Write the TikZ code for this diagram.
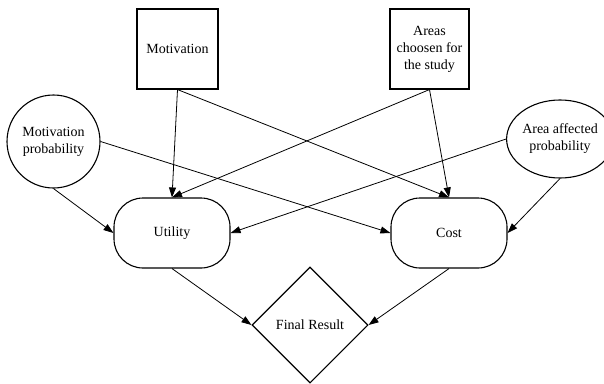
\documentclass[tikz,border=0pt]{standalone}
\usepackage{fontspec}
\setmainfont{Liberation Serif}
\usetikzlibrary{arrows.meta,shapes.geometric}
\tikzset{>={Triangle[length=10pt,width=7pt]}}
\tikzset{%
    box/.style={draw,line width=1.1pt,rectangle,inner sep=0pt,
        minimum width=#1,minimum height=80pt,align=center},%
    box/.default=80pt,%
    blob/.style={draw,line width=1.1pt,ellipse,inner sep=0pt,align=center},%
    pill/.style={draw,line width=1.1pt,rectangle,rounded corners=29pt,
        minimum width=116pt,minimum height=70pt},%
    decision/.style={draw,line width=1.1pt,diamond,inner sep=0pt,
        minimum width=116pt,minimum height=116pt},%
    link/.style={->,line width=0.8pt}%
}

\begin{document}
\begin{tikzpicture}[x=1pt,y=-1pt,font=\fontsize{14}{17}\selectfont]
      \useasboundingbox (0,0) rectangle (604,383);
      % sources
      \node[box=81pt] (mot) at (177.5,49) {Motivation};
      \node[box=79pt] (area) at (429.5,49) {Areas\\choosen for\\the study};
      \node[blob,minimum width=93pt,minimum height=93pt] (mprob) at (53.5,141.5)
          {Motivation\\probability};
      \node[blob,minimum width=88pt,minimum height=78pt] (aprob) at (560,139)
          {Area affected\\probability};
      % middle and result
      \node[pill] (util) at (172,233) {Utility};
      \node[pill] (cost) at (449,233) {Cost};
      \node[decision] (fin) at (310,325) {Final Result};
      % links
      \draw[link] (mot.south) -- (util.north);
      \draw[link] (mot.south) -- (cost.north);
      \draw[link] (area.south) -- (util.north);
      \draw[link] (area.south) -- (cost.north);
      \draw[link] (mprob.south) -- (util.west);
      \draw[link] (mprob.east) -- (cost.west);
      \draw[link] (aprob.west) -- (util.east);
      \draw[link] (aprob.south) -- (cost.east);
      \draw[link] (util.south) -- (fin.west);
      \draw[link] (cost.south) -- (fin.east);
    \end{tikzpicture}
\end{document}
